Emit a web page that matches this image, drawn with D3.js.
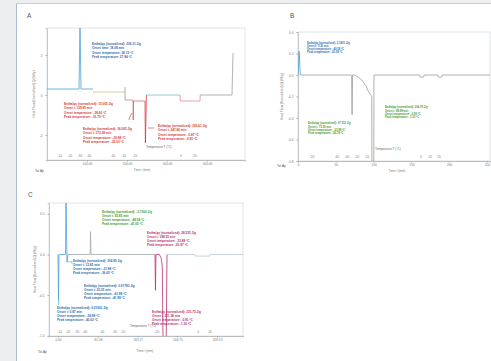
<!DOCTYPE html>
<html><head><meta charset="utf-8">
<script src="https://cdn.jsdelivr.net/npm/d3@7"></script>
<style>html,body{margin:0;padding:0;background:#eceef0;overflow:hidden}svg{display:block;font-family:"Liberation Sans",Arial,sans-serif}</style>
</head><body><svg id="c" width="491" height="361"></svg>
<script>
// ---------------- DATA ----------------
// Panel A (time in min, heat flow in W/g)
const aTimeTicks = [100, 200, 300, 400];
const aTimeLabels = ["100.00", "200.00", "300.00", "400.00"];
const aFlowTicks = [2, 0, -2];
const aFlowLabels = ["2", "0", "-2"];
const aTempTimes = [32.5, 57.5, 82.5, 105, 165, 192.5, 220, 335, 370];
const aTempLabels = ["-10", "-20", "-30", "-40", "-40", "-60", "-20", "0", "20"];
const aBlue = [[0,0.30],[80,0.30],[82.5,3.5],[85,0.30],[115,0.30]];
const aOlive = [[115,0.15],[195,0.15]];
const aGray1 = [[195,0.40],[195,-0.25],[215,-0.25]];
const aRed1 = [[215,-0.25],[215.5,-1.25],[216.5,-0.3],[245,-0.3]];
const aRed2 = [[245,-0.3],[246,-2.4],[248.5,0]];
const aTeal = [[248.5,0],[332.5,0]];
const aPink = [[332.5,0],[333,-0.3],[382.5,-0.3],[383,0]];
const aGray2 = [[383,0],[462.5,0],[465,2.1]];
const aNoteBlue = ["Enthalpy (normalized): 226.31 J/g","Onset time: 18.08 min","Onset temperature: 28.15 °C","Peak temperature: 27.84 °C"];
const aNoteRed1 = ["Enthalpy (normalized): 15.005 J/g","Onset t: 139.95 min","Onset temperature: -28.60 °C","Peak temperature: -31.70 °C"];
const aNoteRed2 = ["Enthalpy (normalized): 36.005 J/g","Onset t: 173.38 min","Onset temperature: -20.88 °C","Peak temperature: -22.03 °C"];
const aNoteRed3 = ["Enthalpy (normalized): 205.61 J/g","Onset t: 247.86 min","Onset temperature: -0.87 °C","Peak temperature: -0.95 °C"];

// Panel B
const bTimeTicks = [0, 50, 100, 150, 200, 250];
const bTimeLabels = ["0", "50", "100", "150", "200", "250"];
const bFlowTicks = [0.4, 0.2, 0, -0.2, -0.4, -0.6, -0.8];
const bFlowLabels = ["0.4", "0.2", "0.0", "-0.2", "-0.4", "-0.6", "-0.8"];
const bTempTimes = [18.5, 51.6, 64.9, 78.1, 91.4, 162.9, 174.8, 186.7];
const bTempLabels = ["-20", "-60", "-40", "-20", "-10", "0", "10", "20"];
const bBlue = [[0,0],[1.5,0.22],[3,0]];
const bGray = [[3,0],[70,0],[71,-0.01],[71.6,-0.37],[72.2,0],[75,0],[80,-0.02],[85,-0.05],[90,-0.1],[93,-0.15],[97.6,-0.2],[97.9,-0.85],[100.3,-0.85],[100.6,0],[161,0],[162,-0.02],[166,-0.02],[167,0],[185,0],[186,-0.02],[190,-0.02],[191,0],[254.2,0]];
const bNoteBlue = ["Enthalpy (normalized): 3.1401 J/g","Onset t: 5.35 min","Onset temperature: -40.58 °C","Peak temperature: -41.09 °C"];
const bNoteGreen1 = ["Enthalpy (normalized): 37.153 J/g","Onset t: 73.39 min","Onset temperature: -23.99 °C","Peak temperature: -26.79 °C"];
const bNoteGreen2 = ["Enthalpy (normalized): 234.78 J/g","Onset t: 98.99 min","Onset temperature: -0.59 °C","Peak temperature: -1.33 °C"];

// Panel C
const cTimeTicks = [0, 81.58, 163.17, 244.75, 326.33];
const cTimeLabels = ["0.00", "81.58", "163.17", "244.75", "326.33"];
const cFlowTicks = [0.5, 0, -0.5, -1.0];
const cFlowLabels = ["0.5", "0.0", "-0.5", "-1.0"];
const cTempTimes = [4.1, 20.5, 39, 55.4, 90.3, 117, 133.4, 203.2, 287.3, 312];
const cTempLabels = ["-10", "-20", "-30", "-40", "-40", "-60", "-20", "-20", "0", "20"];
const cBlue = [[0,0],[1,-0.56],[2,0],[15.4,0],[16.4,0.7],[18.5,-0.09],[20.5,0]];
const cGray = [[20.5,0],[66,0],[66.7,0.28],[67.7,0],[199,0]];
const cMag = [[199,0],[200,-0.44],[201,0],[208,0],[212,-0.05],[214,-0.15],[215.5,-1.05],[222,-1.05],[223.7,0]];
const cLight = [[223.7,0],[281,0],[282,-0.02],[311,-0.02],[312,0],[379.6,0]];
const cNoteGreen = ["Enthalpy (normalized): -3.7000 J/g","Onset t: 55.85 min","Onset temperature: -48.58 °C","Peak temperature: -41.65 °C"];
const cNoteMag1 = ["Enthalpy (normalized): 28.535 J/g","Onset t: 198.55 min","Onset temperature: -23.88 °C","Peak temperature: -25.97 °C"];
const cNoteBlue1 = ["Enthalpy (normalized): 206.85 J/g","Onset t: 12.85 min","Onset temperature: -31.88 °C","Peak temperature: -36.65 °C"];
const cNoteBlue2 = ["Enthalpy (normalized): 0.07783 J/g","Onset t: 22.35 min","Onset temperature: -41.98 °C","Peak temperature: -41.99 °C"];
const cNoteBlue3 = ["Enthalpy (normalized): 0.01561 J/g","Onset t: 0.87 min","Onset temperature: -39.99 °C","Peak temperature: -40.63 °C"];
const cNoteMag2 = ["Enthalpy (normalized): 231.75 J/g","Onset t: 211.38 min","Onset temperature: -0.91 °C","Peak temperature: -1.30 °C"];

// ---------------- DRAW ----------------
const svg = d3.select("#c");
svg.append("rect").attr("width",491).attr("height",361).attr("fill","#eceef0");
svg.append("rect").attr("x",16).attr("y",4).attr("width",475).attr("height",357).attr("fill","#fff");
svg.append("line").attr("x1",16.5).attr("y1",4).attr("x2",16.5).attr("y2",361).attr("stroke","#a9bdd1");
svg.append("line").attr("x1",16).attr("y1",3.5).attr("x2",491).attr("y2",3.5).attr("stroke","#cdd1d5");

const BLUE="#4a9fd2", BLUET="#2a6db0", RED="#d23a3a", GREEN="#3f9a2c", MAG="#b8306f";

function panel(cfg, id){
  const g = svg.append("g");
  const x = d3.scaleLinear().domain(cfg.xDomain).range([cfg.left, cfg.right]);
  const y = d3.scaleLinear().domain(cfg.yDomain).range([cfg.bottom, cfg.top]);
  g.append("text").attr("x",cfg.labelPos[0]).attr("y",cfg.labelPos[1]).text(cfg.label)
    .attr("font-size",6.5).attr("fill","#555");
  g.append("rect").attr("x",cfg.left).attr("y",cfg.top).attr("width",cfg.right-cfg.left).attr("height",cfg.bottom-cfg.top)
    .attr("fill","none").attr("stroke","#d8dcdf").attr("stroke-width",0.8);
  // y axis
  const ya = g.append("g").attr("transform",`translate(${cfg.left},0)`)
    .call(d3.axisLeft(y).tickValues(cfg.yTicks).tickSize(1.5).tickPadding(3).tickFormat((d,i)=>cfg.yLabels[i]));
  ya.select(".domain").attr("stroke","#c8c8c8");
  ya.selectAll("text").attr("font-size",3.2).attr("fill","#777").attr("font-family","Liberation Sans");
  ya.selectAll(".tick line").attr("stroke","#aaa");
  // x axis
  const xa = g.append("g").attr("transform",`translate(0,${cfg.bottom})`)
    .call(d3.axisBottom(x).tickValues(cfg.xTicks).tickSize(1.5).tickPadding(1.5).tickFormat((d,i)=>cfg.xLabels[i]));
  xa.select(".domain").attr("stroke","#bbb");
  xa.selectAll("text").attr("font-size",3.2).attr("fill","#777").attr("font-family","Liberation Sans");
  xa.selectAll(".tick line").attr("stroke","#aaa");
  // temperature ticks
  g.selectAll(null).data(cfg.tempTimes).enter().append("text")
    .attr("x",d=>x(d)).attr("y",cfg.bottom-3.5).attr("text-anchor","middle")
    .attr("font-size",3).attr("fill","#777").text((d,i)=>cfg.tempLabels[i]);
  g.append("text").attr("x",x(cfg.tempTitle[0])).attr("y",y(cfg.tempTitle[1])).text("Temperature T (°C)")
    .attr("font-size",3).attr("fill","#666");
  // titles
  g.append("text").attr("transform",`translate(${cfg.yTitleX},${(cfg.top+cfg.bottom)/2}) rotate(-90)`)
    .attr("text-anchor","middle").attr("font-size",3.3).attr("fill","#777").text("Heat Flow (Normalized) Q (W/g)");
  g.append("text").attr("x",cfg.timeTitle[0]).attr("y",cfg.timeTitle[1]).attr("text-anchor","middle")
    .attr("font-size",3.2).attr("fill","#777").text("Time t (min)");
  g.append("text").attr("x",cfg.corner[0]).attr("y",cfg.corner[1])
    .attr("font-size",3.2).attr("fill","#555").text("Tot Ap");
  // clip & series
  svg.append("clipPath").attr("id","clip"+id).append("rect")
    .attr("x",cfg.left).attr("y",cfg.top).attr("width",cfg.right-cfg.left).attr("height",cfg.bottom-cfg.top);
  const line = d3.line().x(d=>x(d[0])).y(d=>y(d[1]));
  const sg = g.append("g").attr("clip-path",`url(#clip${id})`);
  cfg.series.forEach(s=>{
    sg.append("path").attr("d",line(s.data)).attr("fill","none").attr("stroke",s.color).attr("stroke-width",s.w||0.8);
  });
  (cfg.leaders||[]).forEach(l=>{
    g.append("path").attr("d",line(l.data)).attr("fill","none").attr("stroke",l.color).attr("stroke-width",0.6);
  });
  cfg.notes.forEach(n=>{
    const t = g.append("text").attr("font-size",cfg.noteSize).attr("fill",n.color).attr("font-weight","bold");
    n.lines.forEach((s,i)=>{
      t.append("tspan").attr("x",x(n.at[0])).attr("y",y(n.at[1])+i*cfg.noteGap).text(s);
    });
  });
}

panel({
  label:"A", labelPos:[27,18], left:47, right:245, top:28, bottom:160,
  xDomain:[0,495], yDomain:[-3.25,3.35],
  xTicks:aTimeTicks, xLabels:aTimeLabels, yTicks:aFlowTicks, yLabels:aFlowLabels,
  tempTimes:aTempTimes, tempLabels:aTempLabels, tempTitle:[247.5,-2.65],
  yTitleX:35, timeTitle:[142,171], corner:[35,172],
  series:[
    {data:aBlue,color:BLUE},{data:aOlive,color:"#c9c27e"},{data:aGray1,color:"#9a9a9a"},
    {data:aRed1,color:RED,w:0.6},{data:aRed2,color:RED},{data:aTeal,color:"#7dbccb"},
    {data:aPink,color:"#e38a9c"},{data:aGray2,color:"#a0a0a0"}
  ],
  leaders:[{data:[[252.5,-1.65],[267.5,-1.65]],color:RED},{data:[[205,-1.25],[208,-1.05],[212,-0.9]],color:RED}],
  noteSize:3.1, noteGap:4.4,
  notes:[
    {at:[112.5,2.5],color:BLUET,lines:aNoteBlue},
    {at:[42.5,-0.5],color:RED,lines:aNoteRed1},
    {at:[90,-1.75],color:RED,lines:aNoteRed2},
    {at:[277.5,-1.6],color:RED,lines:aNoteRed3}
  ]
},"A");

panel({
  label:"B", labelPos:[290,18], left:298, right:490, top:32, bottom:161,
  xDomain:[0,254.2], yDomain:[-0.8,0.4],
  xTicks:bTimeTicks, xLabels:bTimeLabels, yTicks:bFlowTicks, yLabels:bFlowLabels,
  tempTimes:bTempTimes, tempLabels:bTempLabels, tempTitle:[102,-0.70],
  yTitleX:283, timeTitle:[397,172], corner:[277,167],
  series:[{data:bBlue,color:BLUE},{data:bGray,color:"#9c9c9c"}],
  noteSize:2.7, noteGap:3.2,
  notes:[
    {at:[11.9,0.29],color:BLUET,lines:bNoteBlue},
    {at:[13.2,-0.46],color:GREEN,lines:bNoteGreen1},
    {at:[115.2,-0.31],color:GREEN,lines:bNoteGreen2}
  ]
},"B");

panel({
  label:"C", labelPos:[28,197], left:49, right:243, top:203, bottom:336,
  xDomain:[-18.47,379.6], yDomain:[-1.0025,0.633],
  xTicks:cTimeTicks, xLabels:cTimeLabels, yTicks:cFlowTicks, yLabels:cFlowLabels,
  tempTimes:cTempTimes, tempLabels:cTempLabels, tempTitle:[147.8,-0.89],
  yTitleX:36, timeTitle:[145,352], corner:[38,353],
  series:[{data:cBlue,color:BLUE},{data:cGray,color:"#a0a8a8"},{data:cMag,color:MAG},{data:cLight,color:"#b9c9cf"}],
  leaders:[{data:[[18.5,-0.09],[28.7,-0.09],[28.7,-0.12]],color:BLUE},{data:[[1,-0.56],[1,-0.62]],color:BLUE}],
  noteSize:3.1, noteGap:4.0,
  notes:[
    {at:[90.3,0.51],color:GREEN,lines:cNoteGreen},
    {at:[182.6,0.25],color:MAG,lines:cNoteMag1},
    {at:[30.8,-0.09],color:BLUET,lines:cNoteBlue1},
    {at:[53.4,-0.40],color:BLUET,lines:cNoteBlue2},
    {at:[-2,-0.67],color:BLUET,lines:cNoteBlue3},
    {at:[192.9,-0.72],color:MAG,lines:cNoteMag2}
  ]
},"C");
</script></body></html>
